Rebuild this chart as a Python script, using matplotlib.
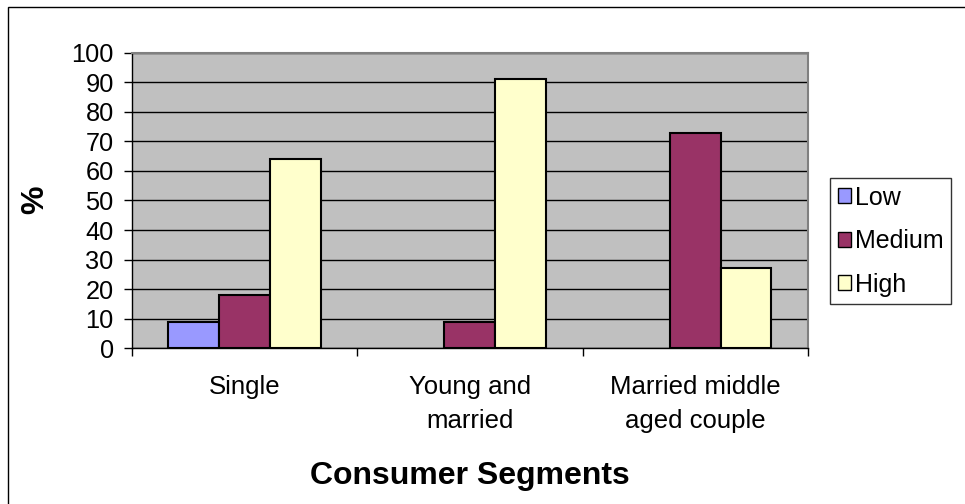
import matplotlib
matplotlib.use("Agg")
import matplotlib.pyplot as plt
from matplotlib.patches import Rectangle
import numpy as np

categories = ["Single", "Young and\nmarried", "Married middle\naged couple"]
series_names = ["Low", "Medium", "High"]
low = [9, 0, 0]
medium = [18, 9, 73]
high = [64, 91, 27]
y_ticks = [0, 10, 20, 30, 40, 50, 60, 70, 80, 90, 100]

colors = ["#9999FF", "#993366", "#FFFFCC"]

plt.rcParams['font.family'] = ['Liberation Sans', 'DejaVu Sans']

W, H = 965, 504
fig = plt.figure(figsize=(W / 100, H / 100), dpi=100)
fig.patch.set_facecolor("white")

l, r, t, b = 131.7, 808, 52.7, 348.3
ax = fig.add_axes([l / W, 1 - b / H, (r - l) / W, (b - t) / H])
ax.set_facecolor("#C0C0C0")

x = np.arange(len(categories))
w = 0.225
for i, (vals, name) in enumerate(zip([low, medium, high], series_names)):
    edges = ["black" if v > 0 else "none" for v in vals]
    ax.bar(x + (i - 1) * w, vals, width=w, color=colors[i], edgecolor=edges,
           linewidth=1.5, label=name, zorder=3)

ax.set_ylim(0, 100)
ax.set_xlim(-0.5, len(categories) - 0.5)
ax.set_yticks(y_ticks)
ax.yaxis.grid(True, color="black", linewidth=1.0, zorder=1)
ax.set_axisbelow(True)
ax.tick_params(axis="y", length=6, width=1, pad=7, labelsize=18.3, direction="out")

ax.set_xticks(np.arange(-0.5, len(categories)))
ax.set_xticklabels([])
ax.tick_params(axis="x", which="major", length=6, width=1, direction="out")
ax.set_xticks(x, minor=True)
ax.set_xticklabels(categories, minor=True, fontsize=18.5, linespacing=1.55)
ax.tick_params(axis="x", which="minor", length=0, pad=19)

for s in ["left", "bottom"]:
    ax.spines[s].set_color("black")
    ax.spines[s].set_linewidth(1)
for s in ["top", "right"]:
    ax.spines[s].set_color("#808080")
    ax.spines[s].set_linewidth(1.5)

ax.set_xlabel("Consumer Segments", fontsize=23, fontweight="bold", labelpad=20)
fig.text(35 / W, 1 - 200 / H, "%", fontsize=23, fontweight="bold",
         rotation=90, ha="center", va="center")

leg = fig.legend(loc="upper left", bbox_to_anchor=(830 / W, 1 - 178 / H),
                 fontsize=18, frameon=True, fancybox=False, edgecolor="black",
                 handlelength=0.55, handleheight=0.55, handletextpad=0.15,
                 labelspacing=0.78, borderpad=0.3, borderaxespad=0)
leg.get_frame().set_linewidth(1)
for h in leg.legend_handles:
    h.set_linewidth(1)
    h.set_edgecolor("black")

fig.add_artist(Rectangle((8 / W, -0.1), 1.2, 1.1 - 7 / H, fill=False,
                         edgecolor="black", linewidth=1, transform=fig.transFigure))

fig.savefig("out.png", dpi=100)
